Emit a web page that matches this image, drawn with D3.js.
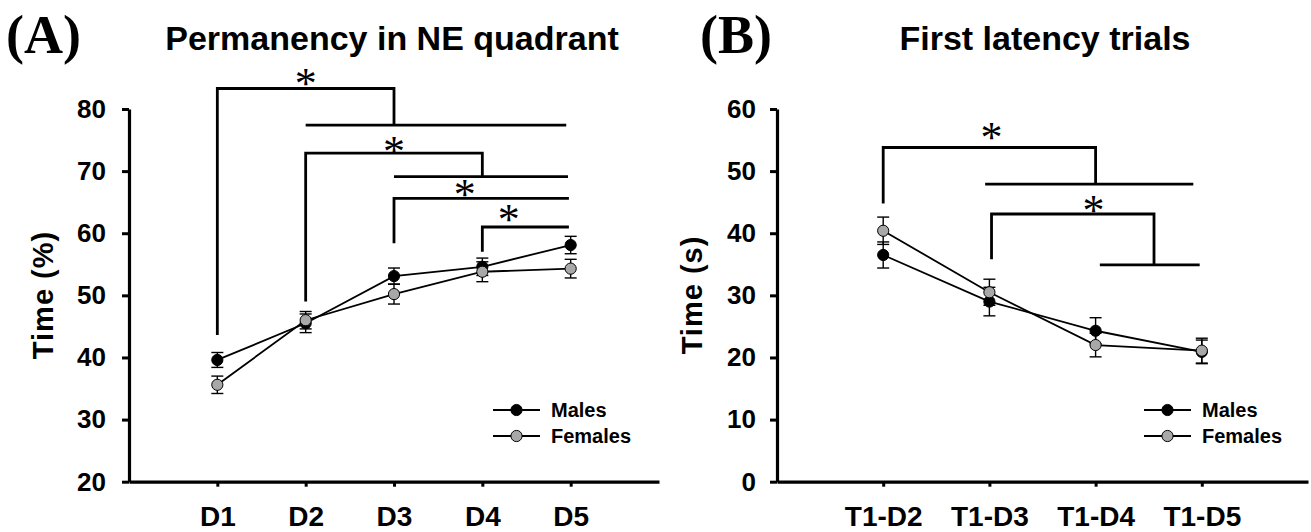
<!DOCTYPE html>
<html>
<head>
<meta charset="utf-8">
<script src="https://cdn.jsdelivr.net/npm/d3@7"></script>
<style>
  body { margin: 0; background: #fff; }
  text { font-family: "Liberation Sans", Arial, sans-serif; font-weight: bold; }
</style>
</head>
<body>
<svg id="chart"></svg>
<script>
// panel A: permanency in NE quadrant (%)
const daysA = ['D1', 'D2', 'D3', 'D4', 'D5'];
const malesA = [39.6, 45.5, 53.1, 54.6, 58.1];
const malesAErr = [1.2, 1.5, 1.3, 1.4, 1.4];
const femalesA = [35.6, 46.0, 50.2, 53.8, 54.3];
const femalesAErr = [1.4, 1.4, 1.6, 1.6, 1.5];
const ticksA = [20, 30, 40, 50, 60, 70, 80];

// panel B: first latency trials (s)
const trialsB = ['T1-D2', 'T1-D3', 'T1-D4', 'T1-D5'];
const malesB = [36.5, 29.0, 24.3, 20.9];
const malesBErr = [2.1, 2.3, 2.1, 1.9];
const femalesB = [40.4, 30.5, 22.0, 21.1];
const femalesBErr = [2.2, 2.1, 1.9, 2.0];
const ticksB = [0, 10, 20, 30, 40, 50, 60];

// significance brackets, in data units (x = category index starting at 1)
// from/to: bracket ends, top: bracket level, dropL/dropR: where the legs stop, star: [x, y]
const bracketsA = [
  {from: 1, to: 3, top: 83.3, dropL: 43.6, dropR: 77.4, star: [2, 85.1]},
  {from: 2, to: 4, top: 72.9, dropL: 49.0, dropR: 69.1, star: [3, 74.2]},
  {from: 3, to: 4.98, top: 65.6, dropL: 58.4, dropR: null, star: [3.8, 67.3]},
  {from: 4, to: 4.98, top: 61.0, dropL: 57.0, dropR: null, star: [4.3, 63.3]}
];
const groupLinesA = [
  {from: 2, to: 4.95, level: 77.4},
  {from: 3, to: 4.97, level: 69.1}
];
const bracketsB = [
  {from: 1, to: 3, top: 53.8, dropL: 44.8, dropR: 47.9, star: [2.02, 56.4]},
  {from: 2.02, to: 3.55, top: 43.1, dropL: 35.8, dropR: 34.9, star: [2.98, 44.7]}
];
const groupLinesB = [
  {from: 1.96, to: 3.92, level: 47.9},
  {from: 3.04, to: 3.98, level: 34.9}
];

const size = {w: 1311, h: 532};
const svg = d3.select('svg#chart')
    .attr('width', size.w)
    .attr('height', size.h);

const femaleFill = '#a8a8a8';

function drawPanel(opt) {
  const g = svg.append('g');

  const x = d3.scaleLinear().domain([0, opt.cats.length + 1]).range(opt.xRange);
  const y = d3.scaleLinear().domain(opt.yDomain).range([481.7, 109]);

  // axes
  const yAxis = d3.axisLeft(y)
      .tickValues(opt.ticks)
      .tickSize(7)
      .tickSizeOuter(0)
      .tickPadding(opt.yPad);
  const yG = g.append('g')
      .attr('transform', `translate(${opt.xRange[0]},0)`)
      .call(yAxis);

  const xAxis = d3.axisBottom(x)
      .tickValues(d3.range(1, opt.cats.length + 1))
      .tickFormat(i => opt.cats[i - 1])
      .tickSize(5)
      .tickSizeOuter(0)
      .tickPadding(19);
  const xG = g.append('g')
      .attr('transform', `translate(0,${y(opt.yDomain[0])})`)
      .call(xAxis);

  [xG, yG].forEach(a => {
    a.select('.domain').attr('stroke', '#000').attr('stroke-width', 3.2);
    a.selectAll('.tick line').attr('stroke', '#000').attr('stroke-width', 3);
    a.selectAll('text').attr('fill', '#000').style('font-family', '"Liberation Sans", Arial, sans-serif').style('font-weight', 'bold');
  });
  yG.selectAll('text').style('font-size', '26px');
  xG.selectAll('text').style('font-size', '28px');

  // y title
  g.append('text')
      .attr('transform', `translate(${opt.yTitleX},295) rotate(-90)`)
      .attr('text-anchor', 'middle')
      .style('font-size', '29px')
      .style('letter-spacing', '1px')
      .text(opt.yTitle);

  // panel letter + title
  g.append('text')
      .attr('x', opt.letterX)
      .attr('y', 53)
      .style('font-family', '"Liberation Serif", "Times New Roman", serif')
      .style('font-size', '54px')
      .text(opt.letter);
  g.append('text')
      .attr('x', opt.titleX)
      .attr('y', 50)
      .attr('text-anchor', 'middle')
      .style('font-size', '34px')
      .text(opt.title);

  // brackets
  const bg = g.append('g').attr('fill', 'none').attr('stroke', '#000').attr('stroke-width', 2.8);
  opt.brackets.forEach(b => {
    let path = `M${x(b.from)},${y(b.dropL)}V${y(b.top)}H${x(b.to)}`;
    if (b.dropR !== null) path += `V${y(b.dropR)}`;
    bg.append('path').attr('d', path);
  });
  opt.groupLines.forEach(l => {
    bg.append('line')
        .attr('x1', x(l.from)).attr('x2', x(l.to))
        .attr('y1', y(l.level)).attr('y2', y(l.level));
  });
  g.selectAll('text.star')
      .data(opt.brackets)
      .join('text')
      .classed('star', true)
      .attr('x', d => x(d.star[0]))
      .attr('y', d => y(d.star[1]) + 21)
      .attr('text-anchor', 'middle')
      .style('font-family', '"Liberation Serif", "Times New Roman", serif')
      .style('font-weight', 'normal')
      .style('font-size', '44px')
      .text('*');

  // data
  const series = [
    {vals: opt.males, err: opt.malesErr, fill: '#000'},
    {vals: opt.females, err: opt.femalesErr, fill: femaleFill}
  ];
  const line = d3.line().x((d, i) => x(i + 1)).y(d => y(d));

  series.forEach(s => {
    g.append('path')
        .attr('d', line(s.vals))
        .attr('fill', 'none')
        .attr('stroke', '#000')
        .attr('stroke-width', 1.8);
  });

  series.forEach(s => {
    const eg = g.append('g').attr('stroke', '#000').attr('stroke-width', 1.4);
    s.vals.forEach((v, i) => {
      const cx = x(i + 1);
      const y0 = y(v - s.err[i]), y1 = y(v + s.err[i]);
      eg.append('line').attr('x1', cx).attr('x2', cx).attr('y1', y0).attr('y2', y1);
      eg.append('line').attr('x1', cx - 6).attr('x2', cx + 6).attr('y1', y0).attr('y2', y0);
      eg.append('line').attr('x1', cx - 6).attr('x2', cx + 6).attr('y1', y1).attr('y2', y1);
    });
  });

  series.forEach(s => {
    g.append('g').selectAll('circle')
        .data(s.vals)
        .join('circle')
        .attr('cx', (d, i) => x(i + 1))
        .attr('cy', d => y(d))
        .attr('r', 5.6)
        .attr('fill', s.fill)
        .attr('stroke', '#000')
        .attr('stroke-width', 1);
  });

  // legend
  const leg = g.append('g').attr('transform', `translate(${opt.legendX},410)`);
  [['Males', '#000'], ['Females', femaleFill]].forEach((d, i) => {
    const row = leg.append('g').attr('transform', `translate(0,${i * 26})`);
    row.append('line').attr('x1', 0).attr('x2', 47).attr('stroke', '#000').attr('stroke-width', 1.8);
    row.append('circle').attr('cx', 23.5).attr('r', 5.6).attr('fill', d[1]).attr('stroke', '#000');
    row.append('text').attr('x', 58).attr('dy', '0.36em').style('font-size', '20px').text(d[0]);
  });
}

drawPanel({
  cats: daysA, males: malesA, malesErr: malesAErr, females: femalesA, femalesErr: femalesAErr,
  ticks: ticksA, yDomain: [20, 80], xRange: [129, 659], yPad: 16,
  yTitle: 'Time (%)', yTitleX: 53, letter: '(A)', letterX: 6, title: 'Permanency in NE quadrant', titleX: 392,
  brackets: bracketsA, groupLines: groupLinesA, legendX: 493
});

drawPanel({
  cats: trialsB, males: malesB, malesErr: malesBErr, females: femalesB, femalesErr: femalesBErr,
  ticks: ticksB, yDomain: [0, 60], xRange: [777, 1308], yPad: 14,
  yTitle: 'Time (s)', yTitleX: 702, letter: '(B)', letterX: 700, title: 'First latency trials', titleX: 1045,
  brackets: bracketsB, groupLines: groupLinesB, legendX: 1144
});
</script>
</body>
</html>
